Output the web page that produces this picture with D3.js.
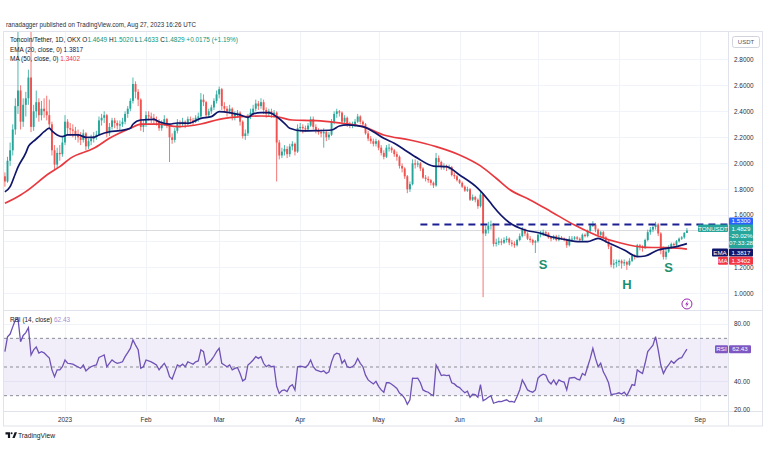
<!DOCTYPE html>
<html><head><meta charset="utf-8">
<script src="https://cdn.jsdelivr.net/npm/d3@7"></script>
<style>
body{margin:0;background:#fff}
svg{display:block}
text{font-family:"Liberation Sans",Arial,sans-serif}
</style>
</head><body>
<svg id="c" width="768" height="463"></svg>
<script>
// ---------------- DATA ----------------
const firstDay = [2022, 11, 9]; // 9 Dec 2022, daily bars
const open = [
1.90,1.86,2.02,2.10,2.26,2.44,2.56,2.32,2.45,2.50,
2.66,2.28,2.40,2.47,2.37,2.42,2.40,2.37,2.30,2.10,
1.99,2.08,2.07,2.16,2.32,2.27,2.26,2.25,2.22,2.20,
2.18,2.23,2.13,2.17,2.19,2.21,2.22,2.33,2.35,2.37,
2.23,2.28,2.33,2.31,2.29,2.30,2.32,2.38,2.42,2.48,
2.61,2.55,2.49,2.28,2.30,2.37,2.36,2.35,2.33,2.32,
2.27,2.31,2.34,2.29,2.20,2.18,2.25,2.31,2.30,2.32,
2.30,2.34,2.33,2.32,2.35,2.36,2.49,2.47,2.37,2.40,
2.43,2.48,2.53,2.57,2.44,2.42,2.40,2.42,2.36,2.38,
2.39,2.32,2.21,2.23,2.36,2.39,2.42,2.46,2.44,2.47,
2.41,2.38,2.40,2.38,2.39,2.16,2.06,2.09,2.11,2.07,
2.13,2.15,2.09,2.27,2.28,2.27,2.26,2.29,2.34,2.28,
2.25,2.24,2.23,2.24,2.20,2.22,2.32,2.38,2.40,2.39,
2.32,2.35,2.30,2.29,2.30,2.32,2.36,2.32,2.30,2.23,
2.19,2.17,2.15,2.17,2.12,2.08,2.05,2.12,2.12,2.10,
2.07,2.05,1.98,1.96,1.90,1.80,1.84,2.00,1.99,2.00,
1.96,1.89,1.88,1.87,1.85,1.83,2.04,2.01,1.97,1.98,
1.97,1.97,1.91,1.90,1.87,1.85,1.82,1.79,1.80,1.72,
1.74,1.72,1.67,1.76,1.46,1.49,1.52,1.53,1.38,1.39,
1.40,1.39,1.41,1.42,1.39,1.38,1.37,1.41,1.44,1.49,
1.46,1.42,1.41,1.39,1.40,1.45,1.46,1.47,1.46,1.43,
1.42,1.44,1.41,1.43,1.42,1.41,1.37,1.42,1.42,1.43,
1.42,1.41,1.45,1.44,1.48,1.52,1.53,1.49,1.45,1.47,
1.43,1.40,1.36,1.22,1.23,1.24,1.25,1.23,1.24,1.22,
1.25,1.29,1.28,1.37,1.36,1.35,1.41,1.47,1.49,1.51,
1.53,1.46,1.33,1.28,1.32,1.35,1.38,1.37,1.40,1.42,
1.43,1.4649];
const high = [
1.93,2.05,2.16,2.30,2.50,3.05,2.60,2.50,2.55,2.72,
3.02,2.45,2.56,2.50,2.48,2.50,2.52,2.49,2.32,2.14,
2.12,2.14,2.20,2.37,2.34,2.31,2.30,2.28,2.26,2.24,
2.26,2.24,2.19,2.22,2.24,2.25,2.36,2.38,2.40,2.38,
2.31,2.35,2.35,2.33,2.33,2.35,2.40,2.44,2.50,2.66,
2.63,2.57,2.50,2.34,2.40,2.40,2.39,2.38,2.36,2.34,
2.33,2.37,2.35,2.30,2.23,2.27,2.34,2.33,2.35,2.33,
2.36,2.36,2.35,2.37,2.39,2.54,2.53,2.48,2.42,2.45,
2.50,2.56,2.59,2.58,2.47,2.44,2.45,2.43,2.40,2.41,
2.40,2.33,2.26,2.38,2.42,2.45,2.49,2.48,2.50,2.49,
2.43,2.42,2.42,2.41,2.40,2.18,2.12,2.14,2.13,2.15,
2.17,2.16,2.30,2.31,2.30,2.29,2.31,2.36,2.36,2.30,
2.27,2.26,2.27,2.25,2.24,2.34,2.40,2.42,2.41,2.40,
2.37,2.36,2.32,2.32,2.34,2.38,2.37,2.33,2.31,2.25,
2.21,2.19,2.19,2.18,2.14,2.10,2.14,2.15,2.13,2.11,
2.09,2.06,2.00,1.97,1.91,1.86,2.03,2.03,2.02,2.01,
1.97,1.91,1.90,1.88,1.86,2.08,2.06,2.02,2.00,1.99,
1.99,1.98,1.93,1.91,1.88,1.86,1.83,1.82,1.81,1.76,
1.75,1.73,1.78,1.77,1.52,1.55,1.56,1.54,1.42,1.43,
1.42,1.43,1.44,1.43,1.41,1.40,1.42,1.46,1.51,1.50,
1.47,1.44,1.42,1.41,1.46,1.48,1.49,1.48,1.47,1.44,
1.45,1.45,1.45,1.44,1.43,1.42,1.44,1.44,1.44,1.44,
1.43,1.46,1.46,1.49,1.53,1.555,1.54,1.50,1.48,1.48,
1.44,1.41,1.37,1.26,1.26,1.26,1.26,1.26,1.25,1.27,
1.30,1.30,1.38,1.38,1.37,1.42,1.49,1.51,1.53,1.55,
1.54,1.47,1.36,1.34,1.37,1.39,1.39,1.41,1.43,1.44,
1.47,1.5020];
const low = [
1.82,1.85,1.98,2.06,2.22,2.38,2.26,2.28,2.36,2.45,
2.24,2.25,2.35,2.32,2.33,2.35,2.33,2.26,2.06,1.95,
1.96,2.02,2.05,2.14,2.22,2.21,2.20,2.18,2.16,2.14,
2.16,2.10,2.11,2.14,2.16,2.18,2.21,2.29,2.31,2.20,
2.21,2.26,2.27,2.26,2.25,2.28,2.30,2.35,2.40,2.46,
2.50,2.44,2.25,2.24,2.28,2.33,2.31,2.30,2.29,2.25,
2.25,2.29,2.27,2.01,2.15,2.16,2.23,2.27,2.28,2.27,
2.29,2.30,2.29,2.31,2.32,2.35,2.44,2.35,2.35,2.38,
2.41,2.46,2.50,2.41,2.39,2.36,2.38,2.33,2.33,2.35,
2.29,2.19,2.18,2.21,2.34,2.37,2.40,2.41,2.42,2.38,
2.35,2.36,2.35,2.35,1.86,2.03,2.04,2.06,2.04,2.05,
2.10,2.06,2.08,2.24,2.23,2.24,2.25,2.28,2.26,2.23,
2.22,2.20,2.12,2.17,2.18,2.21,2.30,2.35,2.36,2.30,
2.31,2.28,2.27,2.27,2.28,2.31,2.30,2.28,2.22,2.17,
2.15,2.13,2.13,2.10,2.06,2.03,2.04,2.09,2.08,2.05,
2.02,1.96,1.93,1.88,1.77,1.78,1.83,1.96,1.97,1.94,
1.88,1.86,1.85,1.83,1.81,1.82,1.98,1.95,1.95,1.94,
1.95,1.90,1.88,1.86,1.84,1.81,1.78,1.78,1.71,1.71,
1.70,1.65,1.66,0.97,1.44,1.46,1.49,1.36,1.36,1.37,
1.37,1.38,1.39,1.37,1.36,1.35,1.36,1.40,1.43,1.44,
1.41,1.39,1.37,1.31,1.39,1.43,1.44,1.44,1.42,1.40,
1.41,1.40,1.40,1.41,1.40,1.35,1.36,1.40,1.41,1.41,
1.40,1.40,1.43,1.43,1.47,1.51,1.47,1.44,1.44,1.42,
1.39,1.34,1.20,1.19,1.20,1.21,1.19,1.21,1.18,1.21,
1.24,1.26,1.28,1.33,1.32,1.34,1.40,1.45,1.47,1.49,
1.44,1.30,1.26,1.26,1.31,1.34,1.35,1.36,1.39,1.41,
1.42,1.4633];
const close = [
1.86,2.02,2.10,2.26,2.44,2.56,2.32,2.45,2.50,2.66,
2.28,2.40,2.47,2.37,2.42,2.40,2.37,2.30,2.10,1.99,
2.08,2.07,2.16,2.32,2.27,2.26,2.25,2.22,2.20,2.18,
2.23,2.13,2.17,2.19,2.21,2.22,2.33,2.35,2.37,2.23,
2.28,2.33,2.31,2.29,2.30,2.32,2.38,2.42,2.48,2.61,
2.55,2.49,2.28,2.30,2.37,2.36,2.35,2.33,2.32,2.27,
2.31,2.34,2.29,2.20,2.18,2.25,2.31,2.30,2.32,2.30,
2.34,2.33,2.32,2.35,2.36,2.49,2.47,2.37,2.40,2.43,
2.48,2.53,2.57,2.44,2.42,2.40,2.42,2.36,2.38,2.39,
2.32,2.21,2.23,2.36,2.39,2.42,2.46,2.44,2.47,2.41,
2.38,2.40,2.38,2.39,2.16,2.06,2.09,2.11,2.07,2.13,
2.15,2.09,2.27,2.28,2.27,2.26,2.29,2.34,2.28,2.25,
2.24,2.23,2.24,2.20,2.22,2.32,2.38,2.40,2.39,2.32,
2.35,2.30,2.29,2.30,2.32,2.36,2.32,2.30,2.23,2.19,
2.17,2.15,2.17,2.12,2.08,2.05,2.12,2.12,2.10,2.07,
2.05,1.98,1.96,1.90,1.80,1.84,2.00,1.99,2.00,1.96,
1.89,1.88,1.87,1.85,1.83,2.04,2.01,1.97,1.98,1.97,
1.97,1.91,1.90,1.87,1.85,1.82,1.79,1.80,1.72,1.74,
1.72,1.67,1.76,1.46,1.49,1.52,1.53,1.38,1.39,1.40,
1.39,1.41,1.42,1.39,1.38,1.37,1.41,1.44,1.49,1.46,
1.42,1.41,1.39,1.40,1.45,1.46,1.47,1.46,1.43,1.42,
1.44,1.41,1.43,1.42,1.41,1.37,1.42,1.42,1.43,1.42,
1.41,1.45,1.44,1.48,1.52,1.53,1.49,1.45,1.47,1.43,
1.40,1.36,1.22,1.23,1.24,1.25,1.23,1.24,1.22,1.25,
1.29,1.28,1.37,1.36,1.35,1.41,1.47,1.49,1.51,1.53,
1.46,1.33,1.28,1.32,1.35,1.38,1.37,1.40,1.42,1.43,
1.465,1.4829];
const rsi = [
60.7,71,73,78,82.8,84,67.6,72,74,77.4,
58.4,61.9,64,59.7,60.7,59.9,58,56.3,48,43.2,
48,48,50.2,54.9,52.6,52.3,52,51,50,49.1,
51.4,47.3,49,50.2,51,51.4,56.6,57.5,58.4,50.2,
52.5,54.9,53.5,52.6,53,53.6,57.2,60,63,68.8,
65.3,62,49.1,50.2,54.9,54.2,53.6,52.5,51.4,48,
50.5,52.6,49.1,43.2,41.6,46.6,51.4,50.5,52,50.2,
53.6,52.8,52,53.6,54.2,62,60.7,51.4,53,54.9,
57.5,60.7,63,52.6,51.4,50.2,51.4,48,49,49.6,
45.5,40.3,41.6,51.4,53,54.9,57.2,56,57.2,52.6,
50.2,51.4,50.2,50.5,36.5,31.6,33.5,34,32.8,36.5,
37.7,34,50.2,50.5,50.2,49.6,51.4,54.9,50.2,48,
47.3,46.6,47.3,45.5,46.6,53.6,58.4,59.6,59,52.6,
54.9,50.2,49.6,50.2,52,56,52.6,50.2,44.3,41,
39.5,38.2,40,36.5,34,32.4,39,39,38,36.5,
35,31.8,30.5,28.2,24,27.1,42.2,42,42.2,39,
34,33,32.4,31,30,51.4,48,44,44.5,44,
44.3,39,38.2,36.5,35.6,33.7,32,33.1,28.9,31,
30.7,28.9,37.7,26.5,27.5,28.9,30,24.7,25.4,26,
25.9,26.5,27.1,25.9,26,25.4,29.4,34,41,37.7,
34,33,32.4,34,42.2,44,45,44.3,40,38.2,
41,37.7,41,40,39.5,34,42.2,42.5,42.7,41.6,
41,45.5,44.3,50.2,56,63,56,50.2,52.6,46.6,
43.2,39,30.7,31.1,31.5,32,31.1,32.4,30,33.7,
37.7,37.1,48,46.6,45.5,52.6,60.8,63,65.3,71.2,
62,51.4,45.5,49,51.4,54.2,52.6,54.5,56,56.5,
59.6,62.43];
// EMA(20) and MA(50): [bar index, value]
const ema20 = [[0,1.78],[2,1.82],[4,1.92],[5,1.97],[8,2.08],[9,2.13],[11,2.17],[13,2.205],[15,2.243],[17,2.27],[18,2.25],[20,2.218],[22,2.205],[24,2.218],[28,2.218],[31,2.2],[34,2.2],[36,2.218],[40,2.243],[44,2.251],[48,2.269],[49,2.30],[52,2.333],[57,2.338],[59,2.32],[63,2.302],[66,2.31],[70,2.308],[75,2.346],[79,2.359],[82,2.397],[86,2.39],[90,2.372],[93,2.354],[95,2.38],[98,2.39],[101,2.39],[104,2.358],[107,2.308],[109,2.269],[114,2.249],[119,2.251],[125,2.256],[128,2.287],[131,2.295],[137,2.282],[141,2.243],[145,2.192],[149,2.154],[153,2.103],[158,2.038],[164,1.979],[169,1.974],[174,1.91],[181,1.807],[186,1.692],[187,1.666],[193,1.545],[199,1.487],[205,1.462],[208,1.441],[214,1.415],[220,1.397],[223,1.397],[227,1.423],[230,1.397],[237,1.333],[242,1.282],[245,1.287],[250,1.333],[253,1.346],[257,1.359],[261,1.3817]];
const ma50 = [[0,1.692],[6,1.756],[8,1.782],[17,1.923],[21,1.974],[25,2.038],[34,2.115],[40,2.192],[48,2.269],[52,2.302],[59,2.302],[66,2.282],[75,2.302],[82,2.338],[87,2.354],[98,2.364],[104,2.358],[110,2.333],[119,2.328],[127,2.313],[137,2.282],[145,2.218],[155,2.179],[165,2.128],[174,2.064],[182,1.98],[188,1.885],[193,1.80],[201,1.718],[209,1.628],[218,1.525],[227,1.441],[236,1.385],[245,1.354],[254,1.351],[261,1.3402]];
const priceTicks = [1.0,1.2,1.4,1.6,1.8,2.0,2.2,2.4,2.6,2.8];
const rsiTicks = [20,40,60,80];
const rsiLevels = [70,50,30];
const monthTicks = [[2023,0,"2023"],[2023,1,"Feb"],[2023,2,"Mar"],[2023,3,"Apr"],[2023,4,"May"],[2023,5,"Jun"],[2023,6,"Jul"],[2023,7,"Aug"],[2023,8,"Sep"]];
const resistance = {level:1.53, fromBar:159};
const patternLabels = [{t:"S", bar:206, p:1.225},{t:"H", bar:238, p:1.064},{t:"S", bar:254.5, p:1.202}];
const lastClose = 1.4829, lastEma = 1.3817, lastMa = 1.3402, lastRsi = 62.43;

// ---------------- SETUP ----------------
const svg = d3.select("#c");
const L = 4, R = 728, T = 32, MB = 310, RT = 311, RB = 411, XB = 426;
const dateOf = i => new Date(Date.UTC(firstDay[0], firstDay[1], firstDay[2] + i));
const x = d3.scaleUtc().domain([new Date(Date.UTC(2023,0,1)), new Date(Date.UTC(2023,8,1))]).range([65,700]);
const y = d3.scaleLinear().domain([1.0,2.8]).range([293.3,59.3]);
const yR = d3.scaleLinear().domain([20,80]).range([410,324]);
const xi = i => x(dateOf(i));

const defs = svg.append("defs");
defs.append("clipPath").attr("id","mainClip").append("rect").attr("x",L).attr("y",T).attr("width",R-L).attr("height",MB-T);
defs.append("clipPath").attr("id","rsiClip").append("rect").attr("x",L).attr("y",RT).attr("width",R-L).attr("height",RB-RT);

svg.append("rect").attr("width",768).attr("height",463).attr("fill","#fff");

// grid
const grid = svg.append("g");
monthTicks.forEach(m=>{
  const xx = Math.round(x(new Date(Date.UTC(m[0],m[1],1))))+0.5;
  grid.append("line").attr("x1",xx).attr("x2",xx).attr("y1",T).attr("y2",RB).attr("stroke","#f0f3fa").attr("stroke-width",1);
});
priceTicks.forEach(p=>{
  const yy = Math.round(y(p))+0.5;
  grid.append("line").attr("x1",L).attr("x2",R).attr("y1",yy).attr("y2",yy).attr("stroke","#f0f3fa");
});
[80,40].forEach(v=>{
  const yy = Math.round(yR(v))+0.5;
  grid.append("line").attr("x1",L).attr("x2",R).attr("y1",yy).attr("y2",yy).attr("stroke","#f0f3fa");
});

// main pane
const main = svg.append("g").attr("clip-path","url(#mainClip)");
main.append("line").attr("x1",L).attr("x2",R).attr("y1",y(lastClose)).attr("y2",y(lastClose)).attr("stroke","#cfd1d6").attr("stroke-width",0.8);

const bars = d3.range(close.length).map(i=>({i,o:open[i],h:high[i],l:low[i],c:close[i]}));
const up="#26a69a", dn="#ef5350";
const cg = main.append("g");
cg.selectAll("line").data(bars).join("line")
  .attr("x1",d=>xi(d.i)).attr("x2",d=>xi(d.i))
  .attr("y1",d=>y(d.h)).attr("y2",d=>y(d.l))
  .attr("stroke",d=>d.c>=d.o?up:dn).attr("stroke-width",0.8);
cg.selectAll("rect").data(bars).join("rect")
  .attr("x",d=>xi(d.i)-0.95).attr("width",1.9)
  .attr("y",d=>y(Math.max(d.o,d.c)))
  .attr("height",d=>Math.max(0.8, Math.abs(y(d.o)-y(d.c))))
  .attr("fill",d=>d.c>=d.o?up:dn);

const ln = d3.line().x(d=>xi(d[0])).y(d=>y(d[1])).curve(d3.curveMonotoneX);
main.append("path").attr("d",ln(ma50)).attr("fill","none").attr("stroke","#e8393f").attr("stroke-width",1.7);
main.append("path").attr("d",ln(ema20)).attr("fill","none").attr("stroke","#10176b").attr("stroke-width",1.7);

main.append("line").attr("x1",xi(resistance.fromBar)).attr("x2",R).attr("y1",y(resistance.level)).attr("y2",y(resistance.level))
  .attr("stroke","#1b1f8f").attr("stroke-width",2).attr("stroke-dasharray","7,5");

patternLabels.forEach(a=>{
  main.append("text").attr("x",xi(a.bar)).attr("y",y(a.p)).attr("text-anchor","middle").attr("dominant-baseline","central")
    .attr("font-size",13).attr("font-weight","bold").attr("fill","#1e8f6f").text(a.t);
});

// lightning icon
const lx = xi(261.3), ly = y(0.918);
main.append("circle").attr("cx",lx).attr("cy",ly).attr("r",5).attr("fill","#fff").attr("stroke","#9c27b0").attr("stroke-width",1);
main.append("path").attr("d",`M${lx+1},${ly-3.2} L${lx-1.8},${ly+0.5} L${lx},${ly+0.5} L${lx-1},${ly+3.2} L${lx+1.8},${ly-0.5} L${lx},${ly-0.5} Z`).attr("fill","#9c27b0");

// RSI pane
const rp = svg.append("g").attr("clip-path","url(#rsiClip)");
rp.append("rect").attr("x",L).attr("width",R-L).attr("y",yR(70)).attr("height",yR(30)-yR(70)).attr("fill","rgba(126,87,194,0.1)");
rsiLevels.forEach(v=>{
  rp.append("line").attr("x1",L).attr("x2",R).attr("y1",yR(v)).attr("y2",yR(v))
    .attr("stroke","#8a8d96").attr("stroke-width",1).attr("stroke-dasharray","3,3");
});
const rl = d3.line().x((d,i)=>xi(i)).y(d=>yR(d));
rp.append("path").attr("d",rl(rsi)).attr("fill","none").attr("stroke","#6f52b5").attr("stroke-width",1.3);

// separators & frame
const sep = svg.append("g").attr("stroke","#e0e3eb").attr("fill","none");
sep.append("line").attr("x1",L).attr("x2",763).attr("y1",RT-0.5).attr("y2",RT-0.5);
sep.append("line").attr("x1",L).attr("x2",763).attr("y1",RB+0.5).attr("y2",RB+0.5);
sep.append("line").attr("x1",R+0.5).attr("x2",R+0.5).attr("y1",T).attr("y2",XB);
sep.append("rect").attr("x",3.5).attr("y",31.5).attr("width",759).attr("height",XB-31.5);

// axis tags (right scale)
const tags = [
  {x:729, y:y(resistance.level)-7, w:24, h:8, fill:"#2962ff", lines:[resistance.level.toFixed(4)]},
  {x:698, y:y(lastClose)-6, w:30, h:7.6, fill:"#26a69a", lines:["TONUSDT"]},
  {x:729, y:y(lastClose)-6, w:24, h:23.5, fill:"#26a69a", lines:[lastClose.toFixed(4), "-20.02%", "07:33:28"]},
  {x:712, y:y(lastClose)+18, w:16, h:8, fill:"#10176b", lines:["EMA"]},
  {x:729, y:y(lastClose)+18, w:24, h:8, fill:"#10176b", lines:[lastEma.toFixed(4)]},
  {x:718, y:y(lastClose)+26.3, w:10, h:8, fill:"#f23645", lines:["MA"]},
  {x:729, y:y(lastClose)+26.3, w:24, h:8, fill:"#f23645", lines:[lastMa.toFixed(4)]},
  {x:715, y:yR(lastRsi)-4, w:13, h:8, fill:"#7e57c2", lines:["RSI"]},
  {x:729, y:yR(lastRsi)-4, w:22, h:8, fill:"#7e57c2", lines:[lastRsi.toFixed(2)]}
];
const axisTags = tags.filter(t=>t.x>=729);

// price / rsi axis labels, hidden or nudged where a tag covers them
const ax = svg.append("g").attr("font-size",6.4).attr("fill","#2a2e39");
function axisLabel(cy, txt){
  let top = cy-2.4, bot = cy+2.4;
  for(const t of axisTags){
    const t0 = t.y, t1 = t.y+t.h;
    if(cy>=t0 && cy<=t1) return;              // fully behind a tag
    if(bot>t0 && top<t0){ const d = bot-t0+0.3; top-=d; bot-=d; }
    else if(top<t1 && bot>t1){ const d = t1-top+0.3; top+=d; bot+=d; }
  }
  ax.append("text").attr("x",734).attr("y",bot).text(txt);
}
priceTicks.forEach(p=>axisLabel(y(p), p.toFixed(4)));
rsiTicks.forEach(v=>axisLabel(yR(v), v.toFixed(2)));
monthTicks.forEach(m=>{
  ax.append("text").attr("x",x(new Date(Date.UTC(m[0],m[1],1)))).attr("y",421.5).attr("text-anchor","middle").text(m[2]);
});

tags.forEach(t=>{
  svg.append("rect").attr("x",t.x).attr("y",t.y).attr("width",t.w).attr("height",t.h).attr("fill",t.fill).attr("rx",1);
  t.lines.forEach((s,k)=>{
    svg.append("text").attr("x",t.x+t.w/2).attr("y",t.y+6+k*7.2).attr("text-anchor","middle").attr("font-size",6.2).attr("fill","#fff").text(s);
  });
});

// USDT box
svg.append("rect").attr("x",732.5).attr("y",36.5).attr("width",27).attr("height",11).attr("rx",2).attr("fill","#fff").attr("stroke","#d1d4dc");
svg.append("text").attr("x",746).attr("y",44.3).attr("text-anchor","middle").attr("font-size",6).attr("fill","#50535e").text("USDT");

// header & legends
svg.append("text").attr("x",6).attr("y",27.3).attr("font-size",6.5).attr("fill","#2a2e39")
  .attr("textLength",190).attr("lengthAdjust","spacingAndGlyphs")
  .text("ranadagger published on TradingView.com, Aug 27, 2023 16:26 UTC");

const lg = svg.append("text").attr("x",10).attr("y",41.8).attr("font-size",6.4).attr("fill","#131722")
  .attr("textLength",228).attr("lengthAdjust","spacingAndGlyphs");
const gcol = "#089981";
[["Toncoin/Tether, 1D, OKX  ","#131722"],["O","#131722"],["1.4649  ",gcol],["H","#131722"],["1.5020  ",gcol],["L","#131722"],["1.4633  ",gcol],["C","#131722"],["1.4829  ",gcol],["+0.0175 (+1.19%)",gcol]]
  .forEach(s=>lg.append("tspan").attr("fill",s[1]).text(s[0]));

const l2 = svg.append("text").attr("x",10).attr("y",51.6).attr("font-size",6.4).attr("fill","#131722").attr("textLength",73).attr("lengthAdjust","spacingAndGlyphs");
l2.append("tspan").text("EMA (20, close, 0)  ");
l2.append("tspan").attr("fill","#10176b").text(lastEma.toFixed(4));
const l3 = svg.append("text").attr("x",10).attr("y",60.5).attr("font-size",6.4).attr("fill","#131722").attr("textLength",70).attr("lengthAdjust","spacingAndGlyphs");
l3.append("tspan").text("MA (50, close, 0)  ");
l3.append("tspan").attr("fill","#f23645").text(lastMa.toFixed(4));

const l4 = svg.append("text").attr("x",10).attr("y",322).attr("font-size",6.4).attr("fill","#131722").attr("textLength",60).attr("lengthAdjust","spacingAndGlyphs");
l4.append("tspan").text("RSI (14, close)  ");
l4.append("tspan").attr("fill","#a58fd0").text(lastRsi.toFixed(2));

// TradingView logo
const lgG = svg.append("g").attr("fill","#131722");
lgG.append("path").attr("d","M5.5,432.3 h4.6 v5.6 h-2.2 v-3.5 h-2.4 z");
lgG.append("circle").attr("cx",11.6).attr("cy",433.3).attr("r",1);
lgG.append("path").attr("d","M12.4,437.9 L14.6,432.3 h2.4 l-2.3,5.6 z");
svg.append("text").attr("x",18).attr("y",437.6).attr("font-size",7).attr("fill","#131722").attr("textLength",37).attr("lengthAdjust","spacingAndGlyphs").text("TradingView");
</script>
</body></html>
